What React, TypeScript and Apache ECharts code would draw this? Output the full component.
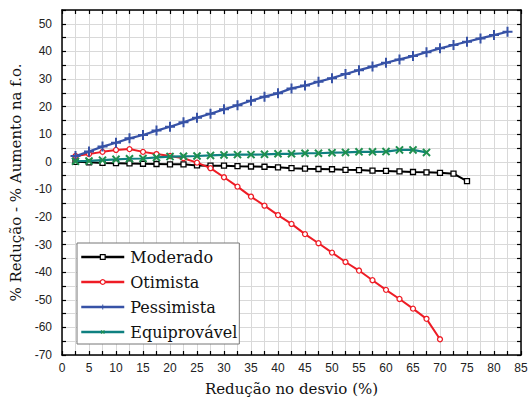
import React, { useEffect, useRef } from "react";
import * as echarts from "echarts";

// Redução no desvio (%) — x positions of the computed points
const reductionSteps = [
  2.5, 5, 7.5, 10, 12.5, 15, 17.5, 20, 22.5, 25, 27.5, 30, 32.5, 35, 37.5, 40,
  42.5, 45, 47.5, 50, 52.5, 55, 57.5, 60, 62.5, 65, 67.5, 70, 72.5, 75, 77.5,
  80, 82.5,
];

const moderado = [
  0, -0.2, -0.4, -0.5, -0.6, -0.7, -0.8, -0.9, -0.9, -1.3, -1.4, -1.4, -1.6,
  -1.7, -1.8, -2.0, -2.3, -2.5, -2.6, -2.7, -2.9, -3.0, -3.2, -3.3, -3.5, -3.7,
  -3.8, -4.0, -4.3, -7.0,
];

const otimista = [
  2.1, 2.8, 3.6, 4.3, 4.6, 3.6, 2.8, 2.1, 1.3, -0.3, -2.3, -5.6, -9.0, -12.6,
  -15.9, -19.3, -22.5, -26.2, -29.5, -32.9, -36.3, -39.4, -42.9, -46.4, -49.7,
  -53.2, -56.9, -64.3,
];

const pessimista = [
  2.1, 3.7, 5.5, 6.9, 8.5, 9.7, 11.3, 12.7, 14.3, 16.0, 17.4, 19.0, 20.5, 22.1,
  23.6, 24.8, 26.6, 27.6, 29.0, 30.3, 31.8, 33.2, 34.5, 35.9, 37.1, 38.3, 39.7,
  41.1, 42.3, 43.5, 44.7, 45.9, 47.1,
];

const equiprovavel = [
  0.2, 0.3, 0.6, 0.9, 1.1, 1.2, 1.6, 1.9, 2.0, 2.1, 2.3, 2.5, 2.6, 2.6, 2.7,
  2.9, 2.9, 3.1, 3.1, 3.3, 3.4, 3.6, 3.6, 3.7, 4.3, 4.3, 3.4,
];

const seriesNames = ["Moderado", "Otimista", "Pessimista", "Equiprovável"];
const xAxisTitle = "Redução no desvio (%)";
const yAxisTitle = "% Redução - % Aumento na f.o.";

const PLUS = "path://M4,0H6V4H10V6H6V10H4V6H0V4H4Z";

const zip = (vals: number[]) => vals.map((v, i) => [reductionSteps[i], v]);

export default function App() {
  const ref = useRef<HTMLDivElement>(null);

  useEffect(() => {
    if (!ref.current) return;
    const chart = echarts.init(ref.current, undefined, { renderer: "svg" });
    const grid = "#d9d9d9";
    const tickFont = {
      fontFamily: "Liberation Sans",
      fontSize: 12,
      color: "#222",
    };
    const frameLine = { show: true, onZero: false, lineStyle: { color: "#000", width: 1.5 } };
    const tick = { show: true, inside: true, length: 4, lineStyle: { color: "#000", width: 1.2 } };

    chart.setOption({
      animation: false,
      backgroundColor: "#fff",
      grid: {
        left: 62,
        right: 7,
        top: 10,
        bottom: 44,
        containLabel: false,
        outerBoundsMode: "none",
      },
      legend: {
        orient: "vertical",
        left: 77,
        top: 243,
        data: seriesNames,
        backgroundColor: "#fff",
        borderColor: "#777",
        borderWidth: 1,
        borderRadius: 0,
        padding: [5, 2, 3, 3],
        itemWidth: 43,
        itemHeight: 6,
        itemGap: 7,
        itemStyle: { borderWidth: 1.2 },
        lineStyle: { width: 2.5 },
        textStyle: {
          fontFamily: "DejaVu Serif",
          fontSize: 16,
          color: "#111",
          lineHeight: 18,
          padding: [0, 0, 0, 1],
        },
      },
      xAxis: [
        {
          type: "value",
          min: 0,
          max: 85,
          interval: 2.5,
          position: "bottom",
          axisLine: frameLine,
          axisTick: tick,
          splitLine: { show: true, lineStyle: { color: grid, width: 1 } },
          axisLabel: {
            ...tickFont,
            margin: 7,
            formatter: (v: number) => (v % 5 === 0 ? String(v) : ""),
          },
          name: xAxisTitle,
          nameLocation: "middle",
          nameGap: 26,
          nameTextStyle: { fontFamily: "DejaVu Serif", fontSize: 15, color: "#111" },
        },
        {
          type: "value",
          min: 0,
          max: 85,
          interval: 2.5,
          position: "top",
          axisLine: frameLine,
          axisTick: tick,
          splitLine: { show: false },
          axisLabel: { show: false },
        },
      ],
      yAxis: [
        {
          type: "value",
          min: -70,
          max: 55,
          interval: 5,
          position: "left",
          axisLine: frameLine,
          axisTick: tick,
          splitLine: { show: true, lineStyle: { color: grid, width: 1 } },
          axisLabel: {
            ...tickFont,
            margin: 10,
            formatter: (v: number) => (v % 10 === 0 ? String(v) : ""),
          },
          name: yAxisTitle,
          nameLocation: "middle",
          nameGap: 30,
          nameRotate: 90,
          nameTextStyle: { fontFamily: "DejaVu Serif", fontSize: 15, color: "#111" },
        },
        {
          type: "value",
          min: -70,
          max: 55,
          interval: 5,
          position: "right",
          axisLine: frameLine,
          axisTick: tick,
          splitLine: { show: false },
          axisLabel: { show: false },
        },
      ],
      series: [
        {
          name: seriesNames[0],
          type: "line",
          data: zip(moderado),
          color: "#000",
          lineStyle: { color: "#000", width: 2 },
          symbol: "rect",
          symbolSize: 5,
          showAllSymbol: true,
          itemStyle: { color: "#fff", borderColor: "#000", borderWidth: 1.3 },
          z: 2,
        },
        {
          name: seriesNames[1],
          type: "line",
          data: zip(otimista),
          color: "#ee1c25",
          lineStyle: { color: "#ee1c25", width: 2 },
          symbol: "circle",
          symbolSize: 5,
          showAllSymbol: true,
          itemStyle: { color: "#fff", borderColor: "#ee1c25", borderWidth: 1.3 },
          z: 3,
        },
        {
          name: seriesNames[2],
          type: "line",
          data: zip(pessimista),
          color: "#3752a6",
          lineStyle: { color: "#3752a6", width: 2.2 },
          symbol: PLUS,
          symbolSize: 10,
          showAllSymbol: true,
          itemStyle: { color: "#3752a6" },
          z: 4,
        },
        {
          name: seriesNames[3],
          type: "line",
          data: zip(equiprovavel),
          color: "#0f8080",
          lineStyle: { color: "#0f8080", width: 2.2 },
          symbol: PLUS,
          symbolRotate: 45,
          symbolSize: 10,
          showAllSymbol: true,
          itemStyle: { color: "#1e8f4e" },
          z: 5,
        },
      ],
    });
    return () => chart.dispose();
  }, []);

  return (
    <div
      ref={ref}
      style={{ position: "fixed", left: 0, top: 0, width: 528, height: 399 }}
    />
  );
}
